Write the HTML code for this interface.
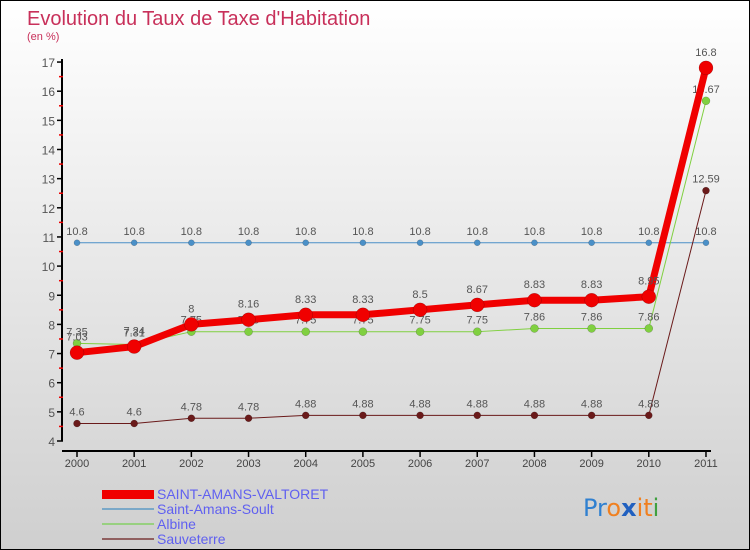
<!DOCTYPE html>
<html><head><meta charset="utf-8"><style>
body{margin:0}
#c{width:748px;height:548px;border:1px solid #000;background:linear-gradient(#ffffff,#cfcfcf);position:relative;font-family:"Liberation Sans",sans-serif;overflow:hidden}
</style></head><body>
<div id="c">
<svg id="s" width="748" height="548" style="position:absolute;left:0;top:0">
<text x="26" y="24" font-size="20" fill="#c8305a">Evolution du Taux de Taxe d'Habitation</text>
<text x="26" y="39" font-size="11" fill="#c8305a">(en %)</text>
<g id="g"></g>
<g>
<rect x="101" y="489" width="52" height="9" fill="#f00000"/>
<text x="156" y="498" font-size="14" fill="#6060f0">SAINT-AMANS-VALTORET</text>
<line x1="101" y1="508" x2="153" y2="508" stroke="#7aa8c8" stroke-width="2"/>
<text x="156" y="513" font-size="14" fill="#6060f0">Saint-Amans-Soult</text>
<line x1="101" y1="523" x2="153" y2="523" stroke="#98d080" stroke-width="2"/>
<text x="156" y="528" font-size="14" fill="#6060f0">Albine</text>
<line x1="101" y1="538" x2="153" y2="538" stroke="#906060" stroke-width="2"/>
<text x="156" y="543" font-size="14" fill="#6060f0">Sauveterre</text>
</g>
<text x="582" y="515" font-size="24" font-family="'DejaVu Sans',sans-serif"><tspan fill="#3080d0">Pr</tspan><tspan fill="#f08020">o</tspan><tspan fill="#2060c0" font-weight="bold">x</tspan><tspan fill="#f08020">it</tspan><tspan fill="#40a040">i</tspan></text>
</svg>
</div>
<script>
const years=[2000,2001,2002,2003,2004,2005,2006,2007,2008,2009,2010,2011];
const yTicks=[4,5,6,7,8,9,10,11,12,13,14,15,16,17];
const sav=[7.03,7.24,8,8.16,8.33,8.33,8.5,8.67,8.83,8.83,8.95,16.8];
const soult=[10.8,10.8,10.8,10.8,10.8,10.8,10.8,10.8,10.8,10.8,10.8,10.8];
const albine=[7.35,7.31,7.75,7.75,7.75,7.75,7.75,7.75,7.86,7.86,7.86,15.67];
const sauv=[4.6,4.6,4.78,4.78,4.88,4.88,4.88,4.88,4.88,4.88,4.88,12.59];
const NS="http://www.w3.org/2000/svg",g=document.getElementById('g');
const X=i=>76+i*57.18, Y=v=>440-(v-4)*29.15;
function el(t,a,p){const e=document.createElementNS(NS,t);for(const k in a)e.setAttribute(k,a[k]);(p||g).appendChild(e);return e;}
let ax=el('line',{x1:61,y1:58,x2:61,y2:440,stroke:'#000','stroke-width':2});


let xa=el('line',{x1:61,y1:450,x2:710,y2:450,stroke:'#000','stroke-width':2});


yTicks.forEach(v=>{
 el('line',{x1:56,y1:Y(v),x2:62,y2:Y(v),stroke:'#000','stroke-width':1.5});
 if(v<17) el('line',{x1:58,y1:Y(v+0.5),x2:62,y2:Y(v+0.5),stroke:'#e00','stroke-width':1.5});
 const t=el('text',{x:54,y:Y(v)+5,'text-anchor':'end','font-size':12,fill:'#555'});t.textContent=v;
 
 
});
years.forEach((yr,i)=>{
 el('line',{x1:X(i),y1:450,x2:X(i),y2:456,stroke:'#000','stroke-width':1.5});
 const t=el('text',{x:X(i),y:466,'text-anchor':'middle','font-size':11,fill:'#444'});t.textContent=yr;
 
 
});
function series(d,col,w,r,name){
 const gg=el('g',{});
 
 
 el('polyline',{points:d.map((v,i)=>X(i)+','+Y(v)).join(' '),fill:'none',stroke:col,'stroke-width':w,'stroke-linejoin':'round'},gg);
 d.forEach((v,i)=>{
  const c=el('circle',{cx:X(i),cy:Y(v),r:r,fill:col,stroke:'rgba(0,0,0,0.3)','stroke-width':0.5},gg);
  
  
  const t=el('text',{x:X(i),y:Y(v)-8-(r>5?4:0),'text-anchor':'middle','font-size':11,fill:'#555'},gg);
  t.textContent=v;
 });
}
series(soult,'#4a90c8',1,3,'saint-amans-soult');
series(sauv,'#6a1a1a',1,3.5,'sauveterre');
series(albine,'#80d040',1,4,'albine');
series(sav,'#f00000',7,7,'saint-amans-valtoret');
</script>
</body></html>
